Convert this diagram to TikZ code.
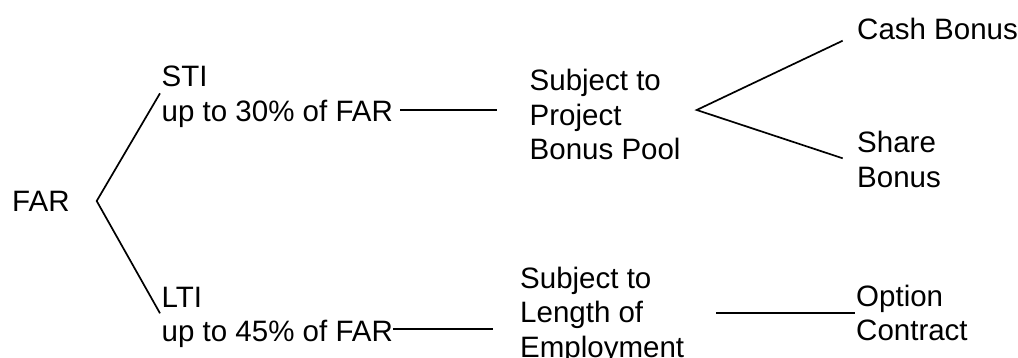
\documentclass[tikz,border=0pt]{standalone}
\usepackage{fontspec}
\setmainfont{Liberation Sans}
\begin{document}
\begin{tikzpicture}[x=1pt,y=-1pt,
  txt/.style={anchor=base west, inner sep=0pt, align=left, font=\fontsize{29.5}{34.5}\selectfont},
  conn/.style={line width=1.7pt}]
\useasboundingbox (0,0) rectangle (1018,358);
% text nodes (base anchor = baseline of last line)
\node[txt] (far) at (12,211.7) {FAR};
\node[txt] (sti) at (161.5,121.5) {STI\\up to 30\% of FAR};
\node[txt] (lti) at (161.5,341.5) {LTI\\up to 45\% of FAR};
\node[txt] (subj1) at (529.5,159.7) {Subject to\\Project\\Bonus Pool};
\node[txt] (subj2) at (520,357.3) {Subject to\\Length of\\Employment};
\node[txt] (cash) at (857,39.7) {Cash Bonus};
\node[txt] (share) at (857,187.2) {Share\\Bonus};
\node[txt] (option) at (856,340.7) {Option\\Contract};
% connector points
\coordinate (v1) at (96.7,201);
\coordinate (stiend) at (160,93.3);
\coordinate (ltiend) at (160,313.3);
\coordinate (a1) at (400,110);
\coordinate (a2) at (496.7,110);
\coordinate (b1) at (393,328.7);
\coordinate (b2) at (492.7,328.7);
\coordinate (v2) at (696.7,110);
\coordinate (cashend) at (842.7,40.7);
\coordinate (shareend) at (842.7,158.3);
\coordinate (c1) at (716,312.7);
\coordinate (c2) at (855,312.7);
% connectors
\draw[conn] (stiend) -- (v1) -- (ltiend);
\draw[conn] (a1) -- (a2);
\draw[conn] (b1) -- (b2);
\draw[conn] (cashend) -- (v2) -- (shareend);
\draw[conn] (c1) -- (c2);
\end{tikzpicture}
\end{document}
